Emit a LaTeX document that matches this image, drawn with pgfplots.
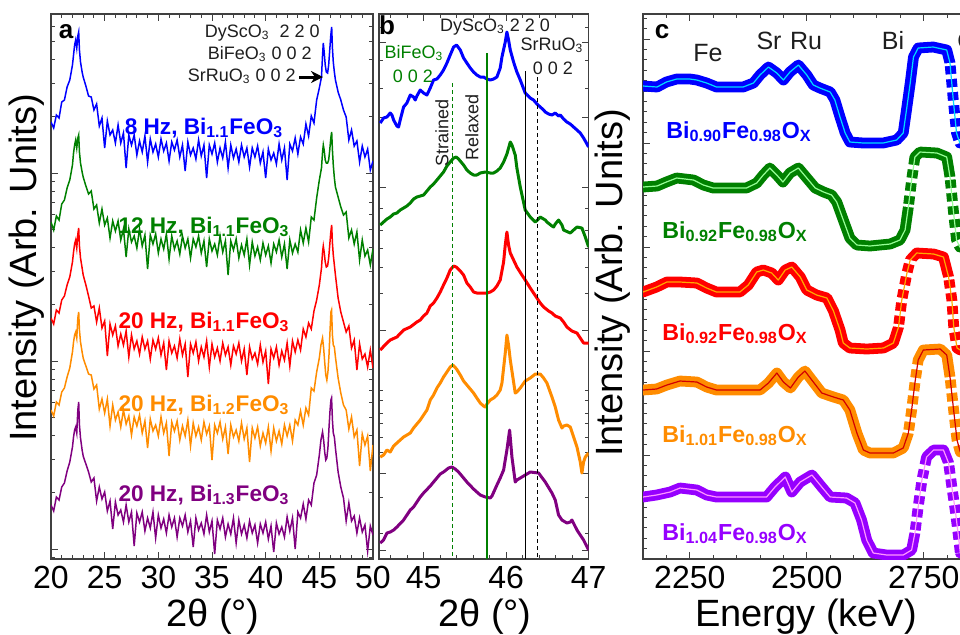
\documentclass[border=0pt]{standalone}
\usepackage{fontspec}
\setmainfont{Liberation Sans}
\usepackage{pgfplots}
\usepackage{pgfplotstable}
\pgfplotsset{compat=1.18}
\usetikzlibrary{arrows.meta}

\definecolor{cblue}{RGB}{0,0,255}
\definecolor{cgreen}{RGB}{0,128,0}
\definecolor{cred}{RGB}{255,0,0}
\definecolor{corange}{RGB}{255,140,0}
\definecolor{cpurple}{RGB}{128,0,128}
\definecolor{ccyan}{RGB}{0,220,255}
\definecolor{clgreen}{RGB}{150,255,150}
\definecolor{clorange}{RGB}{255,170,0}
\definecolor{cdred}{RGB}{210,0,0}
\definecolor{cviolet}{RGB}{150,0,255}
\definecolor{cpink}{RGB}{255,150,255}
\definecolor{txt}{RGB}{30,30,30}

\newcommand{\fA}{\fontsize{9}{10}\selectfont}
\newcommand{\fS}{\bfseries\fontsize{11.3}{12}\selectfont}
\newcommand{\fC}{\bfseries\fontsize{11.6}{12}\selectfont}
\newcommand{\fL}{\fontsize{19}{20}\selectfont}
\newcommand{\fE}{\fontsize{12.5}{13}\selectfont}
\newcommand{\fP}{\bfseries\fontsize{13}{13}\selectfont}

\pgfplotsset{
  panel/.style={
    scale only axis, anchor=north west, height=272.5pt,
    y dir=reverse, ymin=14, ymax=559,
    axis line style={line width=0.6pt, black!75},
    every tick/.style={line width=0.5pt, black!75},
    tick align=inside,
    major tick length=3.5pt, minor tick length=2pt,
    yticklabels={},
    /pgf/number format/assume math mode=true,
    /pgf/number format/1000 sep={},
    xticklabel style={font=\fontsize{16}{16}\selectfont, text=black},
    clip=true,
  },
  band/.style={line width=5.4pt, line join=round, line cap=round},
  gap/.style={white, line width=6.4pt, dash pattern=on 2.4pt off 4.2pt, dash phase=1pt, forget plot},
  fit/.style={line width=0.6pt, line join=round},
}

% Panel c tables (energy, pixel height)
\pgfplotstableread{
E y
2150 86
2180 87
2200 82
2222 79
2250 79
2265 80
2286 83
2307 87
2340 87
2364 87
2386 83
2400 75
2418 67
2436 73
2450 80
2464 72
2482 65
2500 75
2514 85
2528 88
2550 92
2560 100
2571 117
2582 133
2592 142
2621 143
2663 143
2692 140
2706 133
2713 110
2721 83
2728 57
2738 48
2770 47
2799 50
2806 63
2813 100
2820 133
2827 143
2900 143
}\cB
\pgfplotstableread{
E y
2150 187
2180 186
2200 182
2222 178
2258 180
2279 185
2300 188
2340 188
2371 188
2393 183
2407 175
2421 168
2436 175
2449 182
2464 173
2482 168
2500 178
2518 188
2536 192
2553 195
2564 202
2578 220
2592 238
2607 245
2635 246
2678 244
2699 240
2710 230
2717 207
2724 180
2731 157
2742 152
2778 153
2799 157
2806 177
2813 210
2820 240
2827 247
2900 247
}\cG
\pgfplotstableread{
E y
2150 292
2179 287
2201 282
2229 282
2265 283
2286 288
2307 292
2357 292
2375 285
2393 272
2407 270
2425 273
2439 280
2454 270
2468 267
2486 277
2500 290
2521 295
2543 298
2557 311
2571 330
2578 343
2592 348
2628 349
2664 348
2685 343
2696 327
2703 300
2714 273
2721 260
2735 253
2771 254
2792 257
2803 277
2810 300
2814 327
2821 348
2828 350
2900 350
}\cR
\pgfplotstableread{
E y
2150 390
2179 389
2201 385
2229 381
2265 382
2286 387
2307 390
2350 390
2400 390
2418 383
2436 373
2450 382
2465 388
2482 377
2496 371
2514 382
2532 393
2557 397
2578 400
2592 410
2607 433
2621 450
2635 453
2685 453
2706 448
2717 433
2724 410
2731 383
2738 360
2749 350
2785 349
2799 355
2806 377
2813 407
2821 440
2828 452
2900 453
}\cO
\pgfplotstableread{
E y
2150 497
2179 495
2208 492
2229 488
2265 490
2286 495
2307 497
2360 497
2414 497
2432 487
2454 477
2468 492
2486 482
2511 475
2532 487
2550 497
2585 498
2603 503
2617 520
2628 540
2642 553
2671 555
2706 555
2724 550
2731 533
2738 507
2746 480
2756 457
2771 450
2792 450
2803 463
2810 487
2818 513
2825 540
2828 553
2900 555
}\cV

\begin{document}
\begin{tikzpicture}

% ================= Panel a =================
\begin{axis}[panel, at={(25.5pt,-7pt)}, width=161pt,
  xmin=20, xmax=50, xtick={20,25,...,50}, minor x tick num=4,
  ytick={173,361,549},
  minor ytick={26.7,41.6,59.8,83.3,116.4,181.6,191.2,202.1,214.7,229.6,247.8,271.3,304.4,369.6,379.2,390.1,402.7,417.6,435.8,459.3,492.4,557.6}]
\addplot[cblue, line width=0.75pt] coordinates {
(20,122) (20.25,128) (20.5,115) (20.75,118) (21,102) (21.25,100) (21.5,87) (21.75,80) (22,65) (22.1,55) (22.2,45) (22.3,40) (22.4,48) (22.5,36) (22.58,32) (22.65,50) (22.75,62) (22.9,72) (23,77) (23.25,86) (23.5,96)
(23.75,97) (24,110) (24.25,104) (24.5,126) (24.75,118) (25,148) (25.25,121) (25.5,135) (25.75,130) (26,143) (26.25,125) (26.5,143) (26.75,133) (27,168) (27.25,135) (27.5,145) (27.75,135) (28,155) (28.25,141) (28.5,152) (28.75,136) (29,162) (29.25,139) (29.5,152) (29.75,144) (30,157) (30.25,139) (30.5,151) (30.75,143) (31,161) (31.25,142) (31.5,150) (31.75,140) (32,157) (32.25,145) (32.5,171) (32.75,142) (33,155) (33.25,148) (33.5,159) (33.75,140) (34,156) (34.25,145) (34.5,178) (34.75,145) (35,154) (35.25,143) (35.5,162) (35.75,148) (36,158) (36.25,142) (36.5,168) (36.75,145) (37,158) (37.25,149) (37.5,162) (37.75,145) (38,157) (38.25,148) (38.5,167) (38.75,148) (39,157) (39.25,146) (39.5,163) (39.75,152) (40,178) (40.25,149) (40.5,160) (40.75,153) (41,164) (41.25,144) (41.5,160) (41.75,148) (42,180) (42.25,144) (42.5,151) (42.75,138) (43,154) (43.25,137) (43.5,144) (43.75,124) (44,136) (44.25,116) (44.5,123)
(44.75,100) (45,88) (45.2,77) (45.3,55) (45.37,43) (45.45,52) (45.55,65) (45.65,72) (45.77,73) (45.87,65) (45.97,50) (46.07,35) (46.15,27) (46.22,48) (46.3,62) (46.4,72) (46.5,80) (46.75,92) (47,100) (47.25,110)
(47.5,117) (47.75,140) (48,130) (48.25,146) (48.5,141) (48.75,162) (49,146) (49.25,157) (49.5,149) (49.75,170) (50,161)};
\addplot[cgreen, line width=0.75pt] coordinates {
(20,222) (20.25,230) (20.5,216) (20.75,220) (21,204) (21.25,200) (21.5,188) (21.75,180) (22,165) (22.1,153) (22.2,145) (22.3,140) (22.4,148) (22.5,138) (22.58,135) (22.65,152) (22.75,163) (22.9,172) (23,177) (23.25,186) (23.5,194)
(23.75,191) (24,209) (24.25,205) (24.5,223) (24.75,209) (25,225) (25.25,218) (25.5,238) (25.75,221) (26,231) (26.25,221) (26.5,240) (26.75,229) (27,257) (27.25,229) (27.5,242) (27.75,236) (28,248) (28.25,229) (28.5,246) (28.75,235) (29,269) (29.25,235) (29.5,244) (29.75,234) (30,253) (30.25,239) (30.5,249) (30.75,234) (31,259) (31.25,236) (31.5,249) (31.75,241) (32,254) (32.25,236) (32.5,248) (32.75,239) (33,258) (33.25,239) (33.5,247) (33.75,236) (34,253) (34.25,241) (34.5,267) (34.75,239) (35,251) (35.25,244) (35.5,255) (35.75,236) (36,252) (36.25,241) (36.5,275) (36.75,241) (37,250) (37.25,239) (37.5,258) (37.75,245) (38,255) (38.25,239) (38.5,265) (38.75,242) (39,256) (39.25,247) (39.5,260) (39.75,243) (40,255) (40.25,246) (40.5,263) (40.75,244) (41,252) (41.25,240) (41.5,257) (41.75,244) (42,269) (42.25,240) (42.5,253) (42.75,244) (43,252) (43.25,230) (43.5,243) (43.75,228) (44,242) (44.25,217) (44.5,220)
(44.75,198) (45,180) (45.2,168) (45.3,152) (45.37,145) (45.45,150) (45.55,160) (45.65,163) (45.77,163) (45.87,160) (45.97,150) (46.07,138) (46.15,132) (46.22,150) (46.3,165) (46.4,178) (46.5,187) (46.75,197) (47,207) (47.25,215)
(47.5,212) (47.75,238) (48,230) (48.25,244) (48.5,232) (48.75,260) (49,240) (49.25,256) (49.5,250) (49.75,265) (50,249)};
\addplot[cred, line width=0.75pt] coordinates {
(20,318) (20.25,324) (20.5,310) (20.75,313) (21,300) (21.25,296) (21.5,285) (21.75,277) (22,262) (22.1,252) (22.2,244) (22.3,240) (22.4,248) (22.5,234) (22.58,228) (22.65,246) (22.75,258) (22.9,268) (23,275) (23.25,285) (23.5,296)
(23.75,308) (24,306) (24.25,322) (24.5,308) (24.75,328) (25,321) (25.25,356) (25.5,324) (25.75,335) (26,326) (26.25,346) (26.5,334) (26.75,345) (27,331) (27.25,357) (27.5,335) (27.75,349) (28,341) (28.25,354) (28.5,337) (28.75,349) (29,341) (29.25,359) (29.5,340) (29.75,349) (30,338) (30.25,355) (30.5,343) (30.75,370) (31,341) (31.25,353) (31.5,346) (31.75,358) (32,339) (32.25,355) (32.5,344) (32.75,377) (33,344) (33.25,353) (33.5,342) (33.75,361) (34,347) (34.25,357) (34.5,341) (34.75,367) (35,344) (35.25,357) (35.5,348) (35.75,361) (36,343) (36.25,355) (36.5,347) (36.75,365) (37,346) (37.25,354) (37.5,343) (37.75,361) (38,349) (38.25,375) (38.5,347) (38.75,359) (39,353) (39.25,364) (39.5,345) (39.75,362) (40,351) (40.25,384) (40.5,349) (40.75,358) (41,347) (41.25,365) (41.5,351) (41.75,360) (42,343) (42.25,366) (42.5,341) (42.75,352) (43,340) (43.25,350) (43.5,329) (43.75,337) (44,323) (44.25,329) (44.5,311)
(44.75,300) (45,285) (45.2,268) (45.3,252) (45.37,246) (45.45,252) (45.55,262) (45.65,267) (45.77,266) (45.87,258) (45.97,245) (46.07,232) (46.15,225) (46.22,243) (46.3,255) (46.4,265) (46.5,275) (46.75,298) (47,312) (47.25,322)
(47.5,332) (47.75,326) (48,348) (48.25,340) (48.5,370) (48.75,344) (49,359) (49.25,354) (49.5,367) (49.75,350) (50,368)};
\addplot[corange, line width=0.75pt] coordinates {
(20,410) (20.25,416) (20.5,402) (20.75,405) (21,392) (21.25,388) (21.5,377) (21.75,368) (22,352) (22.1,342) (22.2,335) (22.3,332) (22.4,338) (22.5,318) (22.58,312) (22.65,330) (22.75,342) (22.9,352) (23,358) (23.25,366) (23.5,374)
(23.75,375) (24,389) (24.25,385) (24.5,409) (24.75,399) (25,413) (25.25,399) (25.5,426) (25.75,405) (26,420) (26.25,412) (26.5,427) (26.75,410) (27,424) (27.25,416) (27.5,435) (27.75,417) (28,426) (28.25,415) (28.5,433) (28.75,421) (29,448) (29.25,419) (29.5,431) (29.75,425) (30,436) (30.25,417) (30.5,433) (30.75,423) (31,456) (31.25,422) (31.5,431) (31.75,421) (32,440) (32.25,426) (32.5,436) (32.75,420) (33,446) (33.25,423) (33.5,436) (33.75,427) (34,440) (34.25,422) (34.5,434) (34.75,426) (35,460) (35.25,425) (35.5,433) (35.75,422) (36,439) (36.25,427) (36.5,454) (36.75,425) (37,437) (37.25,430) (37.5,441) (37.75,423) (38,439) (38.25,428) (38.5,462) (38.75,428) (39,438) (39.25,427) (39.5,446) (39.75,433) (40,443) (40.25,427) (40.5,451) (40.75,428) (41,441) (41.25,431) (41.5,444) (41.75,425) (42,436) (42.25,425) (42.5,441) (42.75,420) (43,425) (43.25,411) (43.5,425) (43.75,408) (44,415) (44.25,388) (44.5,391)
(44.75,372) (45,358) (45.15,345) (45.3,338) (45.4,348) (45.5,362) (45.6,375) (45.7,380) (45.8,372) (45.9,355) (46,330) (46.08,312) (46.14,310) (46.22,335) (46.3,345) (46.4,347) (46.5,357) (46.75,378) (47,393) (47.25,405)
(47.5,410) (47.75,429) (48,417) (48.25,437) (48.5,430) (48.75,466) (49,434) (49.25,445) (49.5,436) (49.75,471) (50,445)};
\addplot[cpurple, line width=0.75pt] coordinates {
(20,505) (20.25,511) (20.5,497) (20.75,500) (21,487) (21.25,483) (21.5,471) (21.75,462) (22,447) (22.1,437) (22.2,430) (22.3,427) (22.4,433) (22.5,410) (22.58,402) (22.65,425) (22.75,438) (22.9,450) (23,456) (23.25,464) (23.5,472)
(23.75,482) (24,478) (24.25,501) (24.5,487) (24.75,499) (25,492) (25.25,511) (25.5,501) (25.75,529) (26,502) (26.25,515) (26.5,510) (26.75,522) (27,505) (27.25,522) (27.5,512) (27.75,546) (28,513) (28.25,522) (28.5,512) (28.75,531) (29,518) (29.25,528) (29.5,512) (29.75,538) (30,515) (30.25,528) (30.5,519) (30.75,533) (31,515) (31.25,527) (31.5,518) (31.75,537) (32,518) (32.25,526) (32.5,515) (32.75,532) (33,521) (33.25,547) (33.5,518) (33.75,530) (34,523) (34.25,534) (34.5,515) (34.75,532) (35,521) (35.25,554) (35.5,520) (35.75,529) (36,518) (36.25,537) (36.5,524) (36.75,534) (37,518) (37.25,543) (37.5,520) (37.75,534) (38,525) (38.25,538) (38.5,521) (38.75,533) (39,525) (39.25,543) (39.5,524) (39.75,533) (40,522) (40.25,539) (40.5,526) (40.75,552) (41,523) (41.25,534) (41.5,527) (41.75,537) (42,517) (42.25,531) (42.5,518) (42.75,549) (43,512) (43.25,518) (43.5,504) (43.75,519) (44,500) (44.25,505) (44.5,483)
(44.75,475) (45,455) (45.15,440) (45.3,432) (45.4,440) (45.5,452) (45.6,460) (45.7,458) (45.8,448) (45.9,428) (46,410) (46.08,400) (46.14,398) (46.22,420) (46.3,433) (46.4,437) (46.5,448) (46.75,472) (47,487) (47.25,498)
(47.5,521) (47.75,503) (48,521) (48.25,516) (48.5,533) (48.75,518) (49,532) (49.25,525) (49.5,551) (49.75,526) (50,535)};
\end{axis}

% ================= Panel b =================
\begin{axis}[panel, at={(189.5pt,-7pt)}, width=104.8pt,
  xmin=44.46, xmax=47, xtick={45,46,47}, minor xtick={44.6,44.8,...,46.9},
  ytick={42,117,187,330,473,550},
  minor ytick={27,60,88,208,230,248,267,293,390,400,413,423,437,452,497,533}]
\addplot[cblue, line width=1.5pt, line join=round] coordinates {
(44.475,123) (44.515,118) (44.556,117) (44.596,113) (44.617,115) (44.637,120) (44.677,126) (44.697,127) (44.717,120) (44.758,107) (44.798,103) (44.839,95) (44.879,97) (44.899,100) (44.919,96) (44.960,90) (45.0,93) (45.041,95) (45.081,88) (45.121,80) (45.162,79) (45.202,75) (45.242,70) (45.283,63) (45.323,55) (45.364,47) (45.40,45) (45.445,50) (45.485,58) (45.525,63) (45.566,68) (45.606,72) (45.646,75) (45.687,77) (45.727,77) (45.768,79) (45.808,80) (45.849,79) (45.889,77) (45.929,68) (45.950,57) (45.990,42) (46.010,32) (46.030,40) (46.051,50) (46.091,62) (46.131,72) (46.172,80) (46.232,93) (46.293,98) (46.333,100) (46.374,104) (46.414,107) (46.455,110) (46.475,112) (46.516,114) (46.556,115) (46.596,113) (46.636,116) (46.657,115) (46.697,119) (46.737,122) (46.778,124) (46.818,127) (46.859,130) (46.899,133) (46.939,138) (46.960,141) (47.0,147)};
\addplot[cgreen, line width=1.5pt, line join=round] coordinates {
(44.475,225) (44.515,222) (44.556,219) (44.596,217) (44.637,214) (44.677,213) (44.717,210) (44.758,208) (44.798,206) (44.839,203) (44.879,199) (44.919,197) (44.960,196) (45.0,195) (45.041,191) (45.081,187) (45.121,184) (45.162,180) (45.202,176) (45.242,172) (45.283,166) (45.323,162) (45.364,158) (45.396,157) (45.424,159) (45.485,165) (45.525,170) (45.566,173) (45.606,175) (45.646,175) (45.687,173) (45.748,172) (45.808,173) (45.849,173) (45.889,171) (45.929,168) (45.970,162) (46.010,154) (46.051,142) (46.071,145) (46.111,155) (46.131,168) (46.172,187) (46.232,210) (46.293,217) (46.354,222) (46.394,219) (46.414,217) (46.475,220) (46.495,222) (46.556,226) (46.576,227) (46.596,224) (46.636,220) (46.677,225) (46.697,230) (46.778,233) (46.818,230) (46.859,227) (46.919,228) (46.960,237) (47.0,247)};
\addplot[cred, line width=1.5pt, line join=round] coordinates {
(44.475,350) (44.556,343) (44.596,340) (44.677,337) (44.758,330) (44.839,327) (44.919,322) (44.960,320) (45.0,316) (45.041,313) (45.081,306) (45.121,303) (45.162,298) (45.202,292) (45.242,285) (45.283,278) (45.323,270) (45.364,266) (45.396,267) (45.445,271) (45.485,275) (45.525,283) (45.566,287) (45.606,292) (45.646,293) (45.687,293) (45.727,293) (45.768,293) (45.808,292) (45.849,290) (45.889,286) (45.929,280) (45.970,262) (45.990,245) (46.010,232) (46.030,245) (46.051,253) (46.091,260) (46.131,267) (46.192,275) (46.232,280) (46.293,288) (46.333,293) (46.374,298) (46.414,303) (46.455,307) (46.516,311) (46.556,313) (46.596,316) (46.657,318) (46.697,322) (46.737,327) (46.798,331) (46.859,333) (46.899,338) (46.939,343) (47.0,343)};
\addplot[corange, line width=1.5pt, line join=round] coordinates {
(44.475,457) (44.515,455) (44.556,450) (44.596,452) (44.637,446) (44.677,443) (44.717,440) (44.758,437) (44.839,433) (44.879,428) (44.919,424) (44.960,420) (45.0,415) (45.041,410) (45.081,400) (45.121,395) (45.162,388) (45.202,383) (45.242,377) (45.283,372) (45.323,367) (45.356,365) (45.40,369) (45.445,375) (45.485,381) (45.525,385) (45.566,389) (45.606,393) (45.646,398) (45.687,403) (45.727,406) (45.748,407) (45.768,404) (45.808,400) (45.849,398) (45.889,395) (45.929,390) (45.950,383) (45.990,353) (46.010,335) (46.030,345) (46.051,360) (46.091,382) (46.111,393) (46.131,392) (46.172,388) (46.232,381) (46.293,378) (46.354,374) (46.414,374) (46.455,378) (46.495,383) (46.556,397) (46.596,407) (46.636,420) (46.677,428) (46.697,426) (46.737,425) (46.778,427) (46.798,432) (46.859,447) (46.899,462) (46.919,473) (46.939,462) (46.960,457) (47.0,453)};
\addplot[cpurple, line width=1.5pt, line join=round] coordinates {
(44.475,543) (44.515,540) (44.556,533) (44.596,532) (44.637,530) (44.677,527) (44.758,520) (44.839,510) (44.879,507) (44.960,497) (45.0,493) (45.081,486) (45.121,482) (45.202,474) (45.242,472) (45.303,468) (45.343,467) (45.384,469) (45.424,472) (45.485,478) (45.525,482) (45.606,489) (45.646,492) (45.687,495) (45.748,497) (45.808,498) (45.829,496) (45.889,485) (45.929,478) (45.970,470) (46.010,450) (46.043,430) (46.071,457) (46.111,482) (46.131,480) (46.192,477) (46.293,472) (46.394,473) (46.475,482) (46.556,493) (46.596,500) (46.636,515) (46.677,520) (46.737,523) (46.778,522) (46.798,520) (46.859,530) (46.939,540) (47.0,550)};
\addplot[cgreen, line width=0.6pt, dash pattern=on 2pt off 1.5pt] coordinates {(45.355,83) (45.355,559)};
\addplot[cgreen, line width=0.8pt] coordinates {(45.77,53) (45.77,559)};
\addplot[black, line width=0.6pt] coordinates {(46.24,71) (46.24,559)};
\addplot[black, line width=0.6pt, dash pattern=on 2pt off 1.5pt] coordinates {(46.38,77) (46.38,559)};
\end{axis}

% ================= Panel c =================
\begin{axis}[panel, at={(321.5pt,-7pt)}, width=175.5pt,
  xmin=2150, xmax=2900, xtick={2250,2500,2750}, minor xtick={2150,2200,...,2900},
  ytick={39,143,247,351,455},
  minor ytick={18.2,28.6,...,549}]
\addplot[cblue, band] table[x=E,y=y] {\cB};
\addplot[gap, restrict x to domain=2805:2830] table[x=E,y=y] {\cB};
\addplot[ccyan, fit] table[x=E,y=y] {\cB};
\addplot[cgreen, band] table[x=E,y=y] {\cG};
\addplot[gap, restrict x to domain=2716:2733] table[x=E,y=y] {\cG};
\addplot[gap, restrict x to domain=2805:2830] table[x=E,y=y] {\cG};
\addplot[clgreen, fit] table[x=E,y=y] {\cG};
\addplot[cred, band] table[x=E,y=y] {\cR};
\addplot[gap, restrict x to domain=2695:2722] table[x=E,y=y] {\cR};
\addplot[gap, restrict x to domain=2802:2830] table[x=E,y=y] {\cR};
\addplot[clorange, fit] table[x=E,y=y] {\cR};
\addplot[corange, band] table[x=E,y=y] {\cO};
\addplot[gap, restrict x to domain=2716:2740] table[x=E,y=y] {\cO};
\addplot[gap, restrict x to domain=2805:2830] table[x=E,y=y] {\cO};
\addplot[cdred, fit] table[x=E,y=y] {\cO};
\addplot[cviolet, band] table[x=E,y=y] {\cV};
\addplot[gap, restrict x to domain=2729:2758] table[x=E,y=y] {\cV};
\addplot[gap, restrict x to domain=2800:2830] table[x=E,y=y] {\cV};
\addplot[cpink, fit] table[x=E,y=y] {\cV};
\end{axis}

% ================= Texts (pixel coordinates) =================
\begin{scope}[x=0.5pt, y=-0.5pt]
% panel a
\node[font=\fP, anchor=base] at (66,38) {a};
\node[font=\fA, text=txt, anchor=base east, inner sep=0pt] at (320,37) {DyScO\textsubscript{3}\ \ 2 2 0};
\node[font=\fA, text=txt, anchor=base east, inner sep=0pt] at (312,59) {BiFeO\textsubscript{3} 0 0 2};
\node[font=\fA, text=txt, anchor=base east, inner sep=0pt] at (296,81) {SrRuO\textsubscript{3} 0 0 2};
\draw[-{Stealth[length=6pt,width=6pt]}, line width=1.5pt] (299,77) -- (323,77);
\node[font=\fS, text=cblue, anchor=base] at (204,134) {8 Hz, Bi\textsubscript{1.1}FeO\textsubscript{3}};
\node[font=\fS, text=cgreen, anchor=base] at (204,233) {12 Hz, Bi\textsubscript{1.1}FeO\textsubscript{3}};
\node[font=\fS, text=cred, anchor=base] at (204,328) {20 Hz, Bi\textsubscript{1.1}FeO\textsubscript{3}};
\node[font=\fS, text=corange, anchor=base] at (204,411) {20 Hz, Bi\textsubscript{1.2}FeO\textsubscript{3}};
\node[font=\fS, text=cpurple, anchor=base] at (204,501) {20 Hz, Bi\textsubscript{1.3}FeO\textsubscript{3}};
\node[font=\fL, rotate=90, anchor=base] at (37,268) {Intensity (Arb. Units)};
\node[font=\fL, anchor=base] at (213,626) {2θ (°)};
% panel b
\node[font=\fP, anchor=base] at (387,34) {b};
\node[font=\fA, text=txt, anchor=base, inner sep=0pt] at (495,31) {DyScO\textsubscript{3} 2 2 0};
\node[font=\fA, text=cgreen, anchor=base, inner sep=0pt] at (414,58) {BiFeO\textsubscript{3}};
\node[font=\fA, text=cgreen, anchor=base, inner sep=0pt] at (413,82) {0 0 2};
\node[font=\fA, text=txt, anchor=base, inner sep=0pt] at (552,50) {SrRuO\textsubscript{3}};
\node[font=\fA, text=txt, anchor=base, inner sep=0pt] at (553,74) {0 0 2};
\node[font=\fA, text=txt, rotate=90, anchor=center] at (442,133) {Strained};
\node[font=\fA, text=txt, rotate=90, anchor=center] at (472,127) {Relaxed};
\node[font=\fL, anchor=base] at (485,626) {2θ (°)};
% panel c
\node[font=\fP, anchor=base] at (662,38) {c};
\node[font=\fE, text=txt, anchor=base] at (708,61) {Fe};
\node[font=\fE, text=txt, anchor=base] at (769,49) {Sr};
\node[font=\fE, text=txt, anchor=base] at (806,49) {Ru};
\node[font=\fE, text=txt, anchor=base] at (893,49) {Bi};
\node[font=\fE, text=txt, anchor=base west, inner sep=0pt] at (957,49) {O};
\node[font=\fC, text=cblue, anchor=base west, inner sep=0pt] at (666,138) {Bi\textsubscript{0.90}Fe\textsubscript{0.98}O\textsubscript{X}};
\node[font=\fC, text=cgreen, anchor=base west, inner sep=0pt] at (662,238) {Bi\textsubscript{0.92}Fe\textsubscript{0.98}O\textsubscript{X}};
\node[font=\fC, text=cred, anchor=base west, inner sep=0pt] at (662,340) {Bi\textsubscript{0.92}Fe\textsubscript{0.98}O\textsubscript{X}};
\node[font=\fC, text=corange, anchor=base west, inner sep=0pt] at (662,442) {Bi\textsubscript{1.01}Fe\textsubscript{0.98}O\textsubscript{X}};
\node[font=\fC, text=cviolet, anchor=base west, inner sep=0pt] at (662,540) {Bi\textsubscript{1.04}Fe\textsubscript{0.98}O\textsubscript{X}};
\node[font=\fL, rotate=90, anchor=base] at (622,283) {Intensity (Arb. Units)};
\node[font=\fL, anchor=base] at (806,626) {Energy (keV)};
\end{scope}

\pgfresetboundingbox
\path[use as bounding box] (0,0) rectangle (480pt,-317pt);
\end{tikzpicture}
\end{document}
